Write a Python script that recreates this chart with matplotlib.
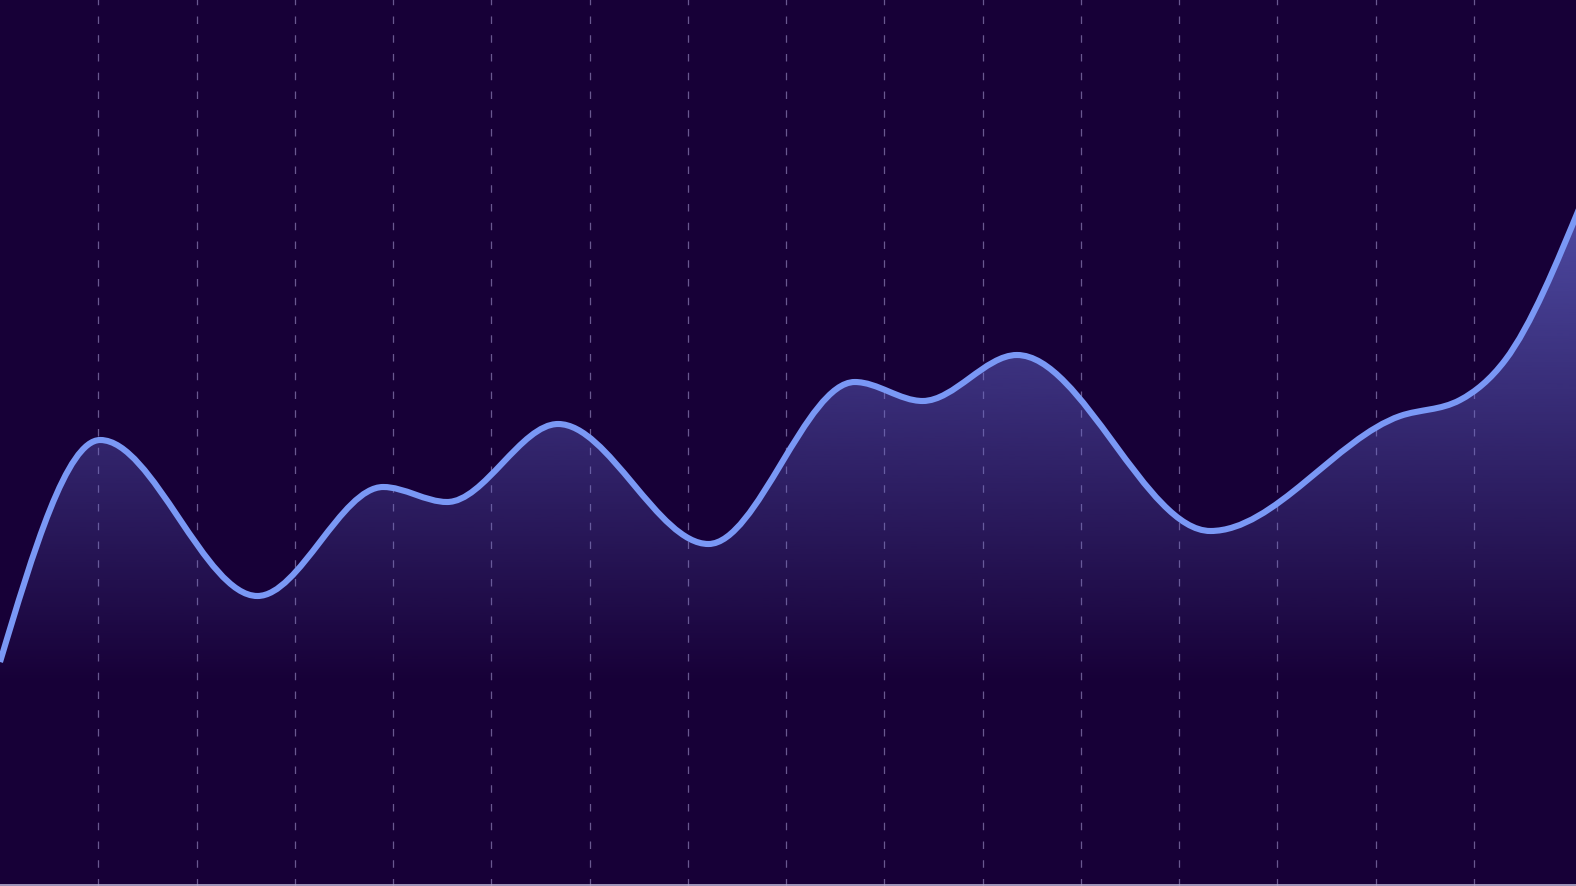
import numpy as np
import matplotlib
matplotlib.use('Agg')
import matplotlib.pyplot as plt
from matplotlib.path import Path
from matplotlib.patches import PathPatch
from matplotlib.lines import Line2D

# Curve points (x in grid units, y in chart units)
x_pts = [0.0, 1.02, 2.62, 3.90, 4.55, 5.68, 7.21, 8.70, 9.39, 10.35,
         12.32, 14.25, 14.86, 15.32, 16.10]
y_pts = [22.4, 44.6, 29.0, 39.9, 38.4, 46.2, 34.2, 50.4, 48.5, 53.1,
         35.5, 47.0, 48.6, 52.6, 68.4]
grid_x = list(range(1, 16))

bg = '#170037'
line_color = '#7a98f5'
x_max = 16.04
y_max = 88.7


# Monotone cubic tangents (same rule as d3 curveMonotoneX)
def monotone_slopes(x, y):
    x = np.asarray(x, float)
    y = np.asarray(y, float)
    h = np.diff(x)
    s = np.diff(y) / h
    n = len(x)
    t = np.zeros(n)
    for i in range(1, n - 1):
        p = (s[i - 1] * h[i] + s[i] * h[i - 1]) / (h[i - 1] + h[i])
        t[i] = (np.sign(s[i - 1]) + np.sign(s[i])) * min(abs(s[i - 1]), abs(s[i]), 0.5 * abs(p))
    t[0] = (3 * s[0] - t[1]) / 2
    t[-1] = (3 * s[-1] - t[-2]) / 2
    return t


def curve_vertices(x, y):
    t = monotone_slopes(x, y)
    verts = [(x[0], y[0])]
    codes = [Path.MOVETO]
    for i in range(len(x) - 1):
        dx = (x[i + 1] - x[i]) / 3
        verts += [(x[i] + dx, y[i] + dx * t[i]),
                  (x[i + 1] - dx, y[i + 1] - dx * t[i + 1]),
                  (x[i + 1], y[i + 1])]
        codes += [Path.CURVE4] * 3
    return verts, codes


fig = plt.figure(figsize=(15.76, 8.87), dpi=100, facecolor=bg)
ax = fig.add_axes([0, 0, 1, 1])
ax.set_facecolor(bg)
ax.set_xlim(0, x_max)
ax.set_ylim(0, y_max)
ax.axis('off')

# dashed vertical grid
for gx in grid_x:
    ax.axvline(gx, color='#7f6fa6', lw=0.9, ls=(0, (6, 9)), alpha=0.8, zorder=1)

verts, codes = curve_vertices(x_pts, y_pts)

# gradient fill under the curve
fill_verts = verts + [(x_pts[-1], 0), (x_pts[0], 0), (x_pts[0], y_pts[0])]
fill_codes = codes + [Path.LINETO, Path.LINETO, Path.CLOSEPOLY]
fill_patch = PathPatch(Path(fill_verts, fill_codes), facecolor='none', edgecolor='none')
ax.add_patch(fill_patch)

yy = np.linspace(0, y_max, 400)
alpha = np.clip(0.68 * (yy - 20) / 45.7, 0, 0.8)
grad = np.zeros((len(yy), 1, 4))
grad[..., 0] = 100 / 255
grad[..., 1] = 104 / 255
grad[..., 2] = 205 / 255
grad[..., 3] = alpha[:, None]
im = ax.imshow(grad, extent=[0, x_max, 0, y_max], origin='lower', aspect='auto', zorder=2)
im.set_clip_path(fill_patch)

# the line itself
line = PathPatch(Path(verts, codes), facecolor='none', edgecolor=line_color,
                 lw=4.4, capstyle='butt', joinstyle='round', zorder=3)
ax.add_patch(line)

# thin light strip along the bottom edge
fig.add_artist(Line2D([0, 1], [1.2 / 887, 1.2 / 887], transform=fig.transFigure,
                      color='#b9b2d2', lw=1.2))

fig.savefig('out.png', dpi=100, facecolor=bg)
